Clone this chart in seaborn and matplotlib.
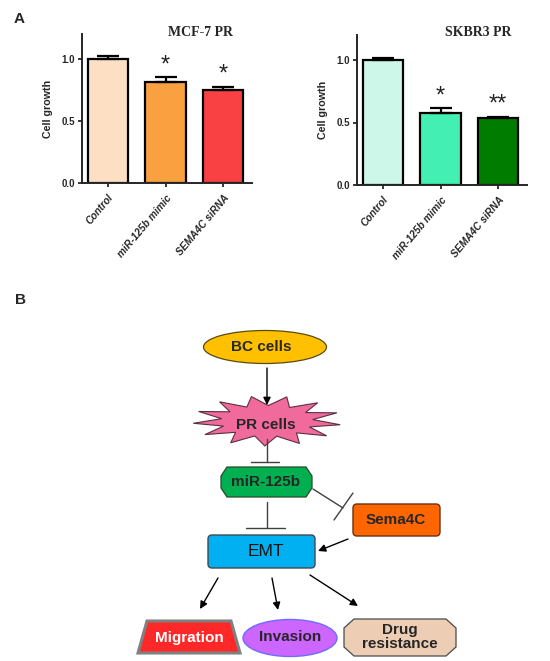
import numpy as np
import matplotlib
matplotlib.use("Agg")
import matplotlib.pyplot as plt
import seaborn as sns
from matplotlib.patches import Ellipse, Polygon, FancyBboxPatch

# Data
groups = ["Control", "miR-125b mimic", "SEMA4C siRNA"]
mcf7_values = [1.00, 0.81, 0.75]
mcf7_errors = [0.02, 0.04, 0.025]
mcf7_stars = ["", "*", "*"]
skbr3_values = [1.00, 0.575, 0.535]
skbr3_errors = [0.02, 0.04, 0.012]
skbr3_stars = ["", "*", "**"]
mcf7_colors = ["#FDE0C4", "#F9A040", "#F94144"]
skbr3_colors = ["#CDF7E8", "#44EFB3", "#007D00"]
y_ticks = [0.0, 0.5, 1.0]
y_ticklabels = ["0.0", "0.5", "1.0"]

W, H = 550, 661
sns.set_theme(style="ticks")
plt.rcParams["font.family"] = ["Liberation Sans", "DejaVu Sans"]

fig = plt.figure(figsize=(W / 100, H / 100), dpi=100)

# ---------- panel B: diagram drawn in pixel coordinates ----------
dg = fig.add_axes([0, 0, 1, 1])
dg.set_xlim(0, W)
dg.set_ylim(H, 0)
dg.axis("off")


def octagon(x0, y0, x1, y1, cx, cy):
    return [(x0 + cx, y0), (x1 - cx, y0), (x1, y0 + cy), (x1, y1 - cy),
            (x1 - cx, y1), (x0 + cx, y1), (x0, y1 - cy), (x0, y0 + cy)]


def rbox(x0, y0, x1, y1, fc, ec, r=4):
    return FancyBboxPatch((x0 + r, y0 + r), x1 - x0 - 2 * r, y1 - y0 - 2 * r,
                          boxstyle=f"round,pad={r}", fc=fc, ec=ec, lw=1)


def arrow(p0, p1):
    dg.annotate("", xy=p1, xytext=p0,
                arrowprops=dict(arrowstyle="-|>", color="black", lw=1,
                                mutation_scale=11, shrinkA=0, shrinkB=0))


def tline(p0, p1, bar0, bar1):
    dg.plot([p0[0], p1[0]], [p0[1], p1[1]], color="#404040", lw=1)
    dg.plot([bar0[0], bar1[0]], [bar0[1], bar1[1]], color="#404040", lw=1)


bold = dict(fontweight="bold", ha="center", va="center", fontsize=11)

# BC cells
dg.add_patch(Ellipse((265, 347), 123, 33, fc="#FFC000", ec="#5a4a10", lw=0.9))
dg.text(261, 347, "BC cells", **bold)
arrow((267, 368), (267, 405))

# PR cells star burst
n = 13
ang = np.linspace(0, 2 * np.pi, 2 * n, endpoint=False) + 0.15
rad = np.where(np.arange(2 * n) % 2 == 0, 1.0, 0.62)
star = np.column_stack([267 + 74 * rad * np.cos(ang), 421 + 25 * rad * np.sin(ang)])
dg.add_patch(Polygon(star, closed=True, fc="#F06A9B", ec="#5a3040", lw=0.8))
dg.text(266, 425, "PR cells", **bold)

# PR cells -| miR-125b
tline((267, 439), (267, 462), (251, 462), (279, 462))
dg.add_patch(Polygon(octagon(221, 467, 312, 497, 6, 9), closed=True,
                     fc="#00B050", ec="#2a4a2a", lw=0.9))
dg.text(266, 482, "miR-125b", **bold)

# miR-125b -| EMT and -| Sema4C
tline((267, 502), (267, 528), (246, 528), (285, 528))
tline((313, 489), (343, 508), (353, 493), (334, 520))
dg.add_patch(rbox(353, 504, 440, 536, "#FF6600", "#6a3010"))
dg.text(396, 520, "Sema4C", **bold)
arrow((348, 539), (318, 551))

# EMT
dg.add_patch(rbox(208, 535, 315, 568, "#00B0F0", "#404a55"))
dg.text(266, 552, "EMT", ha="center", va="center", fontsize=12.5, color="#111111")

# outcomes
arrow((218, 578), (200, 609))
arrow((272, 578), (278, 610))
arrow((310, 575), (358, 606))

dg.add_patch(Polygon([(147, 621), (231, 621), (240, 653), (138, 653)], closed=True,
                     fc="#FF2828", ec="#808080", lw=2.2))
dg.text(189, 638, "Migration", color="white", **bold)
dg.add_patch(Ellipse((290, 638), 94, 37, fc="#CC66FF", ec="#6C6CFF", lw=1))
dg.text(290, 637, "Invasion", **bold)
dg.add_patch(Polygon(octagon(344, 619, 456, 656, 10, 9), closed=True,
                     fc="#EDCDB4", ec="#4a4a4a", lw=0.9))
dg.text(400, 637, "Drug\nresistance", linespacing=0.95, **bold)

fig.text(20 / W, 1 - 300 / H, "B", fontsize=11, fontweight="bold", ha="center", va="center")
fig.text(19 / W, 1 - 19 / H, "A", fontsize=11, fontweight="bold", ha="center", va="center")


# ---------- panel A: bar charts ----------
def bar_panel(rect, values, errors, colors, stars, title, title_x):
    ax = fig.add_axes(rect)
    sns.barplot(x=groups, y=values, hue=groups, palette=colors, legend=False,
                edgecolor="black", linewidth=1.6, width=0.7, saturation=1, ax=ax)
    ax.errorbar(range(len(groups)), values, yerr=[np.zeros(len(values)), errors],
                fmt="none", ecolor="black", elinewidth=1.6, capsize=8, capthick=1.6)
    for i, s in enumerate(stars):
        if s:
            ax.text(i, values[i] + errors[i] + 0.095, s, ha="center", va="center",
                    fontsize=17, color="#222222")
    ax.set_xlim(-0.45, 2.5)
    ax.set_ylim(0, 1.2)
    ax.set_yticks(y_ticks)
    ax.set_yticklabels(y_ticklabels, fontsize=7, fontweight="bold")
    ax.set_xticks(range(len(groups)))
    ax.set_xticklabels(groups, rotation=50, ha="right", rotation_mode="anchor",
                       fontsize=7.3, fontweight="bold", fontstyle="italic")
    ax.set_ylabel("Cell growth", fontsize=7.7, fontweight="bold", labelpad=6)
    ax.set_xlabel("")
    ax.tick_params(length=3, width=1.3, pad=2)
    ax.tick_params(axis="x", pad=4)
    for sp in ["top", "right"]:
        ax.spines[sp].set_visible(False)
    for sp in ["left", "bottom"]:
        ax.spines[sp].set_linewidth(1.4)
    ax.patch.set_alpha(0)
    fig.text(title_x / W, 1 - 32 / H, title, fontsize=10, fontweight="bold",
             family=["Liberation Serif", "DejaVu Serif"], ha="center", va="center")
    return ax


bar_panel([82 / W, 1 - 183 / H, 170 / W, 149 / H], mcf7_values, mcf7_errors,
          mcf7_colors, mcf7_stars, "MCF-7 PR", 200)
bar_panel([357 / W, 1 - 185 / H, 170 / W, 150 / H], skbr3_values, skbr3_errors,
          skbr3_colors, skbr3_stars, "SKBR3 PR", 478)

fig.savefig("out.png", dpi=100)
